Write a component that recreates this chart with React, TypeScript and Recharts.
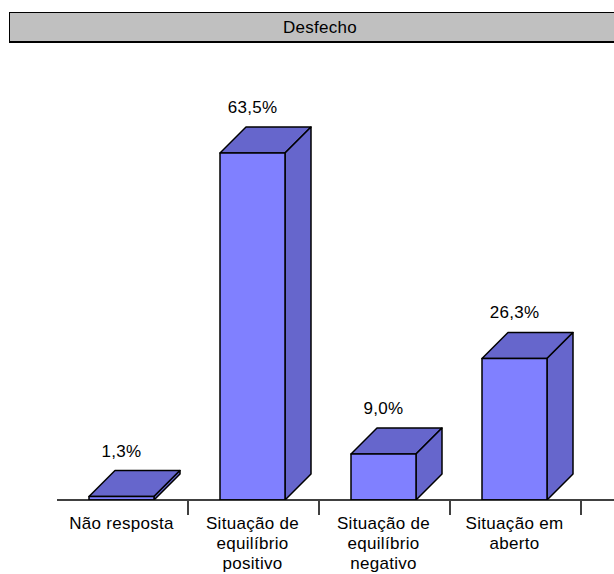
import React from 'react';
import { BarChart, Bar, XAxis, YAxis, LabelList } from 'recharts';

const categories = [
  'Não resposta',
  'Situação de\nequilíbrio\npositivo',
  'Situação de\nequilíbrio\nnegativo',
  'Situação em\naberto',
];
const percentages = [1.3, 63.5, 9.0, 26.3];

const data = categories.map((name, i) => ({ name, value: percentages[i] }));

const FRONT = '#8080FF';
const SIDE = '#6666CC';
const DEPTH = 26;
const BAND = 131;
const FONT = 'Arial, "Liberation Sans", sans-serif';

function Bar3D(props: any) {
  const { x, y, width, height } = props;
  const d = DEPTH;
  const x0 = x - 1;
  const x1 = x0 + width;
  const y0 = y;
  const y1 = y + height;
  return (
    <g stroke="#000" strokeWidth={1.5} strokeLinejoin="round">
      <polygon points={`${x0},${y0} ${x0 + d},${y0 - d} ${x1 + d},${y0 - d} ${x1},${y0}`} fill={SIDE} />
      <polygon points={`${x1},${y0} ${x1 + d},${y0 - d} ${x1 + d},${y1 - d} ${x1},${y1}`} fill={SIDE} />
      <rect x={x0} y={y0} width={width} height={height} fill={FRONT} />
    </g>
  );
}

function ValueLabel(props: any) {
  const { x, y, width, value } = props;
  const text = Number(value).toFixed(1).replace('.', ',') + '%';
  return (
    <text
      x={x - 1 + width / 2}
      y={y - DEPTH - 14}
      textAnchor="middle"
      fontFamily={FONT}
      fontSize={17}
      letterSpacing={0.3}
      fill="#000"
    >
      {text}
    </text>
  );
}

function CategoryTick(props: any) {
  const { x, y, payload } = props;
  const lines = String(payload.value).split('\n');
  return (
    <g>
      <line x1={x + BAND / 2} y1={y + 1} x2={x + BAND / 2} y2={y + 15} stroke="#000" strokeWidth={1.5} />
      <text textAnchor="middle" fontFamily={FONT} fontSize={17} letterSpacing={0.3} fill="#000">
        {lines.map((line, i) => (
          <tspan key={i} x={x - 1} y={y + 29 + i * 20}>
            {line}
          </tspan>
        ))}
      </text>
    </g>
  );
}

export default function App() {
  return (
    <div
      style={{
        position: 'absolute',
        left: 0,
        top: 0,
        width: 614,
        height: 574,
        overflow: 'hidden',
        background: '#fff',
      }}
    >
      <div
        style={{
          position: 'absolute',
          left: 9,
          top: 12,
          width: 620,
          height: 28,
          border: '1.5px solid #000',
          borderBottomWidth: 2,
          background: '#C0C0C0',
          fontFamily: FONT,
          fontSize: 17,
          letterSpacing: 0.3,
          lineHeight: '30px',
          textAlign: 'center',
          color: '#000',
        }}
      >
        Desfecho
      </div>
      <BarChart
        width={614}
        height={574}
        data={data}
        margin={{ top: 76, right: 0, bottom: 0, left: 57 }}
        style={{ position: 'absolute', left: 0, top: 0 }}
      >
        <XAxis
          dataKey="name"
          height={74}
          padding={{ left: 0, right: 33 }}
          axisLine={{ stroke: '#000', strokeWidth: 1.5 }}
          tickLine={false}
          tickSize={0}
          tickMargin={0}
          interval={0}
          tick={<CategoryTick />}
        />
        <YAxis
          width={0}
          domain={[0.67, 77.44]}
          allowDataOverflow
          tick={false}
          tickLine={false}
          axisLine={{ stroke: '#000', strokeWidth: 1.5 }}
        />
        <Bar dataKey="value" barSize={65} shape={<Bar3D />} isAnimationActive={false}>
          <LabelList dataKey="value" content={<ValueLabel />} />
        </Bar>
      </BarChart>
    </div>
  );
}
